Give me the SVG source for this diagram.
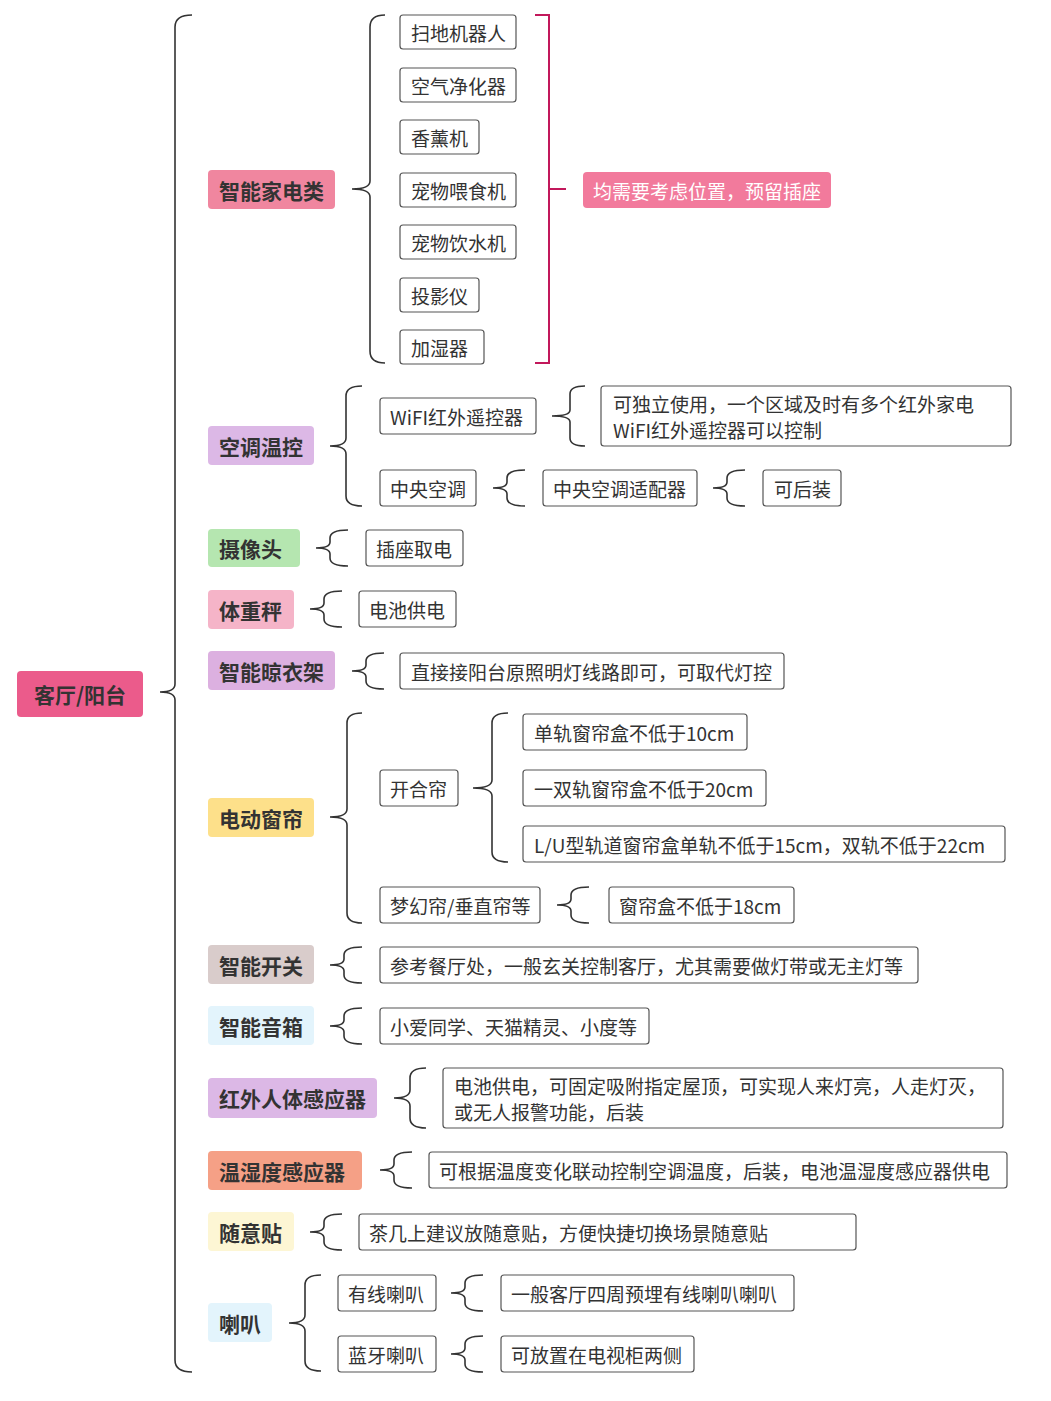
<svg xmlns="http://www.w3.org/2000/svg" xmlns:xlink="http://www.w3.org/1999/xlink" width="1051" height="1401" viewBox="0 0 1051 1401">
<style>
text{font-family:"Noto Sans CJK SC","Noto Sans",sans-serif;fill:#333;dominant-baseline:central}
.c{font-size:21px;font-weight:bold}
.l{font-size:19px}
.b{fill:#fff;stroke:#555;stroke-width:1.2}
.k{fill:none;stroke:#333;stroke-width:1.6}
</style>
<defs><path id="sb" d="M32 -18 Q14 -18 14 -10 L14 -6 Q14 0 0 0 Q14 0 14 6 L14 10 Q14 18 32 18"/></defs>
<rect width="1051" height="1401" fill="#fff"/>
<g id="connectors" class="k">
<path d="M192 15 Q175 15 175 27 L175 684 Q175 692 160 692 Q175 692 175 700 L175 1360 Q175 1372 192 1372"/>
<path d="M385 15 Q370 15 370 27 L370 181 Q370 189 352 189 Q370 189 370 197 L370 351 Q370 363 385 363"/>
<path d="M362 386 Q346 386 346 396 L346 438 Q346 446 330 446 Q346 446 346 454 L346 496 Q346 506 362 506"/>
<path d="M585 386 Q570 386 570 394 L570 410 Q570 416 552 416 Q570 416 570 422 L570 438 Q570 446 585 446"/>
<path d="M362 713 Q347 713 347 723 L347 809 Q347 817 330 817 Q347 817 347 825 L347 913 Q347 923 362 923"/>
<path d="M508 713 Q492 713 492 723 L492 780 Q492 788 473 788 Q492 788 492 796 L492 852 Q492 862 508 862"/>
<path d="M426 1068 Q410 1068 410 1078 L410 1090 Q410 1098 394 1098 Q410 1098 410 1106 L410 1118 Q410 1128 426 1128"/>
<path d="M321 1275 Q305 1275 305 1285 L305 1315 Q305 1323 289 1323 Q305 1323 305 1331 L305 1361 Q305 1371 321 1371"/>
<use xlink:href="#sb" x="493" y="488"/><use xlink:href="#sb" x="713" y="488"/>
<use xlink:href="#sb" x="316" y="548"/><use xlink:href="#sb" x="310" y="609"/>
<use xlink:href="#sb" x="352" y="671"/><use xlink:href="#sb" x="557" y="905"/>
<use xlink:href="#sb" x="330" y="965"/><use xlink:href="#sb" x="330" y="1026"/>
<use xlink:href="#sb" x="380" y="1170"/><use xlink:href="#sb" x="310" y="1232"/>
<use xlink:href="#sb" x="451" y="1293"/><use xlink:href="#sb" x="451" y="1354"/>
<path d="M535 15 L549 15 L549 363 L535 363 M549 189 L566 189" stroke="#c2185b" stroke-width="2"/>
</g>
<g id="root"><rect x="17" y="671" width="126" height="46" rx="4" fill="#eb5b8b"/><text class="c" x="80" y="694" text-anchor="middle">客厅/阳台</text></g>
<g id="cats">
<g id="c1"><rect x="208" y="170" width="127" height="39" rx="4" fill="#f0869f"/><text class="c" x="219" y="189.5">智能家电类</text></g>
<g id="c2"><rect x="208" y="426" width="106" height="39" rx="4" fill="#dcb8e6"/><text class="c" x="219" y="445.5">空调温控</text></g>
<g id="c3"><rect x="208" y="529" width="92" height="38" rx="4" fill="#b5e6b0"/><text class="c" x="219" y="548">摄像头</text></g>
<g id="c4"><rect x="208" y="590" width="86" height="39" rx="4" fill="#f5b4c8"/><text class="c" x="219" y="609.5">体重秤</text></g>
<g id="c5"><rect x="208" y="651" width="127" height="39" rx="4" fill="#dcb0e0"/><text class="c" x="219" y="670.5">智能晾衣架</text></g>
<g id="c6"><rect x="208" y="798" width="106" height="39" rx="4" fill="#fde08a"/><text class="c" x="219" y="817.5">电动窗帘</text></g>
<g id="c7"><rect x="208" y="945" width="106" height="39" rx="4" fill="#d9cccb"/><text class="c" x="219" y="964.5">智能开关</text></g>
<g id="c8"><rect x="208" y="1006" width="106" height="39" rx="4" fill="#e3f4fc"/><text class="c" x="219" y="1025.5">智能音箱</text></g>
<g id="c9"><rect x="208" y="1078" width="169" height="40" rx="4" fill="#dcb8e6"/><text class="c" x="219" y="1098">红外人体感应器</text></g>
<g id="c10"><rect x="208" y="1151" width="154" height="39" rx="4" fill="#f5a086"/><text class="c" x="219" y="1170.5">温湿度感应器</text></g>
<g id="c11"><rect x="208" y="1212" width="86" height="39" rx="4" fill="#fdf6d4"/><text class="c" x="219" y="1231.5">随意贴</text></g>
<g id="c12"><rect x="208" y="1303" width="64" height="39" rx="4" fill="#e3f4fc"/><text class="c" x="219" y="1322.5">喇叭</text></g>
</g>
<g id="leaves">
<g><rect class="b" x="400" y="15" width="116" height="34" rx="3"/><text class="l" x="411" y="32">扫地机器人</text></g>
<g><rect class="b" x="400" y="68" width="116" height="34" rx="3"/><text class="l" x="411" y="85">空气净化器</text></g>
<g><rect class="b" x="400" y="120" width="79" height="34" rx="3"/><text class="l" x="411" y="137">香薰机</text></g>
<g><rect class="b" x="400" y="173" width="116" height="34" rx="3"/><text class="l" x="411" y="190">宠物喂食机</text></g>
<g><rect class="b" x="400" y="225" width="116" height="34" rx="3"/><text class="l" x="411" y="242">宠物饮水机</text></g>
<g><rect class="b" x="400" y="278" width="79" height="34" rx="3"/><text class="l" x="411" y="295">投影仪</text></g>
<g><rect class="b" x="400" y="330" width="84" height="34" rx="3"/><text class="l" x="411" y="347">加湿器</text></g>
<g id="note"><rect x="583" y="172" width="248" height="36" rx="4" fill="#f27a9c"/><text class="l" x="593" y="190" style="fill:#fff">均需要考虑位置，预留插座</text></g>
<g><rect class="b" x="380" y="398" width="156" height="36" rx="3"/><text class="l" x="390" y="416">WiFI红外遥控器</text></g>
<g><rect class="b" x="601" y="386" width="410" height="60" rx="3"/><text class="l" x="613" y="403">可独立使用，一个区域及时有多个红外家电</text><text class="l" x="613" y="429">WiFI红外遥控器可以控制</text></g>
<g><rect class="b" x="380" y="470" width="96" height="36" rx="3"/><text class="l" x="390" y="488">中央空调</text></g>
<g><rect class="b" x="543" y="470" width="154" height="36" rx="3"/><text class="l" x="553" y="488">中央空调适配器</text></g>
<g><rect class="b" x="763" y="470" width="78" height="36" rx="3"/><text class="l" x="774" y="488">可后装</text></g>
<g><rect class="b" x="366" y="530" width="97" height="36" rx="3"/><text class="l" x="376" y="548">插座取电</text></g>
<g><rect class="b" x="359" y="591" width="97" height="36" rx="3"/><text class="l" x="369" y="609">电池供电</text></g>
<g><rect class="b" x="400" y="653" width="384" height="36" rx="3"/><text class="l" x="411" y="671">直接接阳台原照明灯线路即可，可取代灯控</text></g>
<g><rect class="b" x="380" y="770" width="78" height="36" rx="3"/><text class="l" x="390" y="788">开合帘</text></g>
<g><rect class="b" x="523" y="714" width="224" height="36" rx="3"/><text class="l" x="534" y="732">单轨窗帘盒不低于10cm</text></g>
<g><rect class="b" x="523" y="770" width="243" height="36" rx="3"/><text class="l" x="534" y="788">一双轨窗帘盒不低于20cm</text></g>
<g><rect class="b" x="523" y="826" width="482" height="36" rx="3"/><text class="l" x="534" y="844">L/U型轨道窗帘盒单轨不低于15cm，双轨不低于22cm</text></g>
<g><rect class="b" x="380" y="887" width="160" height="36" rx="3"/><text class="l" x="390" y="905">梦幻帘/垂直帘等</text></g>
<g><rect class="b" x="609" y="887" width="185" height="36" rx="3"/><text class="l" x="619" y="905">窗帘盒不低于18cm</text></g>
<g><rect class="b" x="380" y="947" width="538" height="36" rx="3"/><text class="l" x="390" y="965">参考餐厅处，一般玄关控制客厅，尤其需要做灯带或无主灯等</text></g>
<g><rect class="b" x="380" y="1008" width="269" height="36" rx="3"/><text class="l" x="390" y="1026">小爱同学、天猫精灵、小度等</text></g>
<g><rect class="b" x="443" y="1068" width="560" height="60" rx="3"/><text class="l" x="454" y="1085">电池供电，可固定吸附指定屋顶，可实现人来灯亮，人走灯灭，</text><text class="l" x="454" y="1111">或无人报警功能，后装</text></g>
<g><rect class="b" x="429" y="1152" width="578" height="36" rx="3"/><text class="l" x="439" y="1170">可根据温度变化联动控制空调温度，后装，电池温湿度感应器供电</text></g>
<g><rect class="b" x="359" y="1214" width="497" height="36" rx="3"/><text class="l" x="369" y="1232">茶几上建议放随意贴，方便快捷切换场景随意贴</text></g>
<g><rect class="b" x="338" y="1275" width="98" height="36" rx="3"/><text class="l" x="348" y="1293">有线喇叭</text></g>
<g><rect class="b" x="501" y="1275" width="293" height="36" rx="3"/><text class="l" x="511" y="1293">一般客厅四周预埋有线喇叭喇叭</text></g>
<g><rect class="b" x="338" y="1336" width="98" height="36" rx="3"/><text class="l" x="348" y="1354">蓝牙喇叭</text></g>
<g><rect class="b" x="501" y="1336" width="193" height="36" rx="3"/><text class="l" x="511" y="1354">可放置在电视柜两侧</text></g>
</g>
</svg>
